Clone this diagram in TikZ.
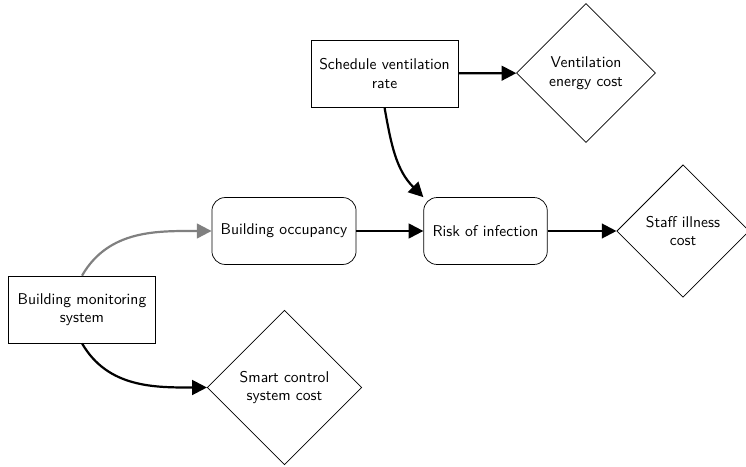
\documentclass[tikz,border=0pt]{standalone}
\usepackage{tikz}
\usetikzlibrary{shapes.geometric,arrows.meta}
\tikzset{
    plain-box/.style = {draw, fill=white, rectangle, line width=0.5pt, align=center, minimum width=100pt, minimum height=45.5pt, font=\sffamily\fontsize{10.6}{12.6}\selectfont},
    rounded-box/.style = {plain-box, rounded corners=9pt, minimum width=98pt},
    cost-diamond/.style = {draw, fill=white, diamond, aspect=1, line width=0.5pt, align=center, inner sep=0pt, font=\sffamily\fontsize{10.6}{12.6}\selectfont},
    link-arrow/.style = {-{Triangle[length=10pt,width=10pt]}, line width=1.5pt},
}

\begin{document}
\begin{tikzpicture}[x=0.68pt, y=-0.68pt]
\useasboundingbox (0,0) rectangle (746,467);
\node [plain-box] (schedule) at (384.5,73.5) {Schedule ventilation\\rate};
\node [cost-diamond, minimum size=94.5pt] (ventcost) at (586,73) {Ventilation\\energy cost};
\node [rounded-box] (occupancy) at (284,231) {Building occupancy};
\node [rounded-box, minimum width=84pt] (risk) at (485.5,231) {Risk of infection};
\node [cost-diamond, minimum size=90pt] (illness) at (683,231) {Staff illness\\cost};
\node [plain-box] (monitoring) at (82,309.5) {Building monitoring\\system};
\node [cost-diamond, minimum size=105pt] (smartcost) at (284.5,387.5) {Smart control\\system cost};

\draw [link-arrow] (schedule) -- (ventcost);
\draw [link-arrow] (schedule.south) to[out=-80, in=135] (risk.north west);
\draw [link-arrow] (occupancy) -- (risk);
\draw [link-arrow] (risk) -- (illness);
\draw [link-arrow, gray] (monitoring.north) to[out=60, in=180] (occupancy.west);
\draw [link-arrow] (monitoring.south) to[out=-60, in=180] (smartcost.west);
\end{tikzpicture}
\end{document}
